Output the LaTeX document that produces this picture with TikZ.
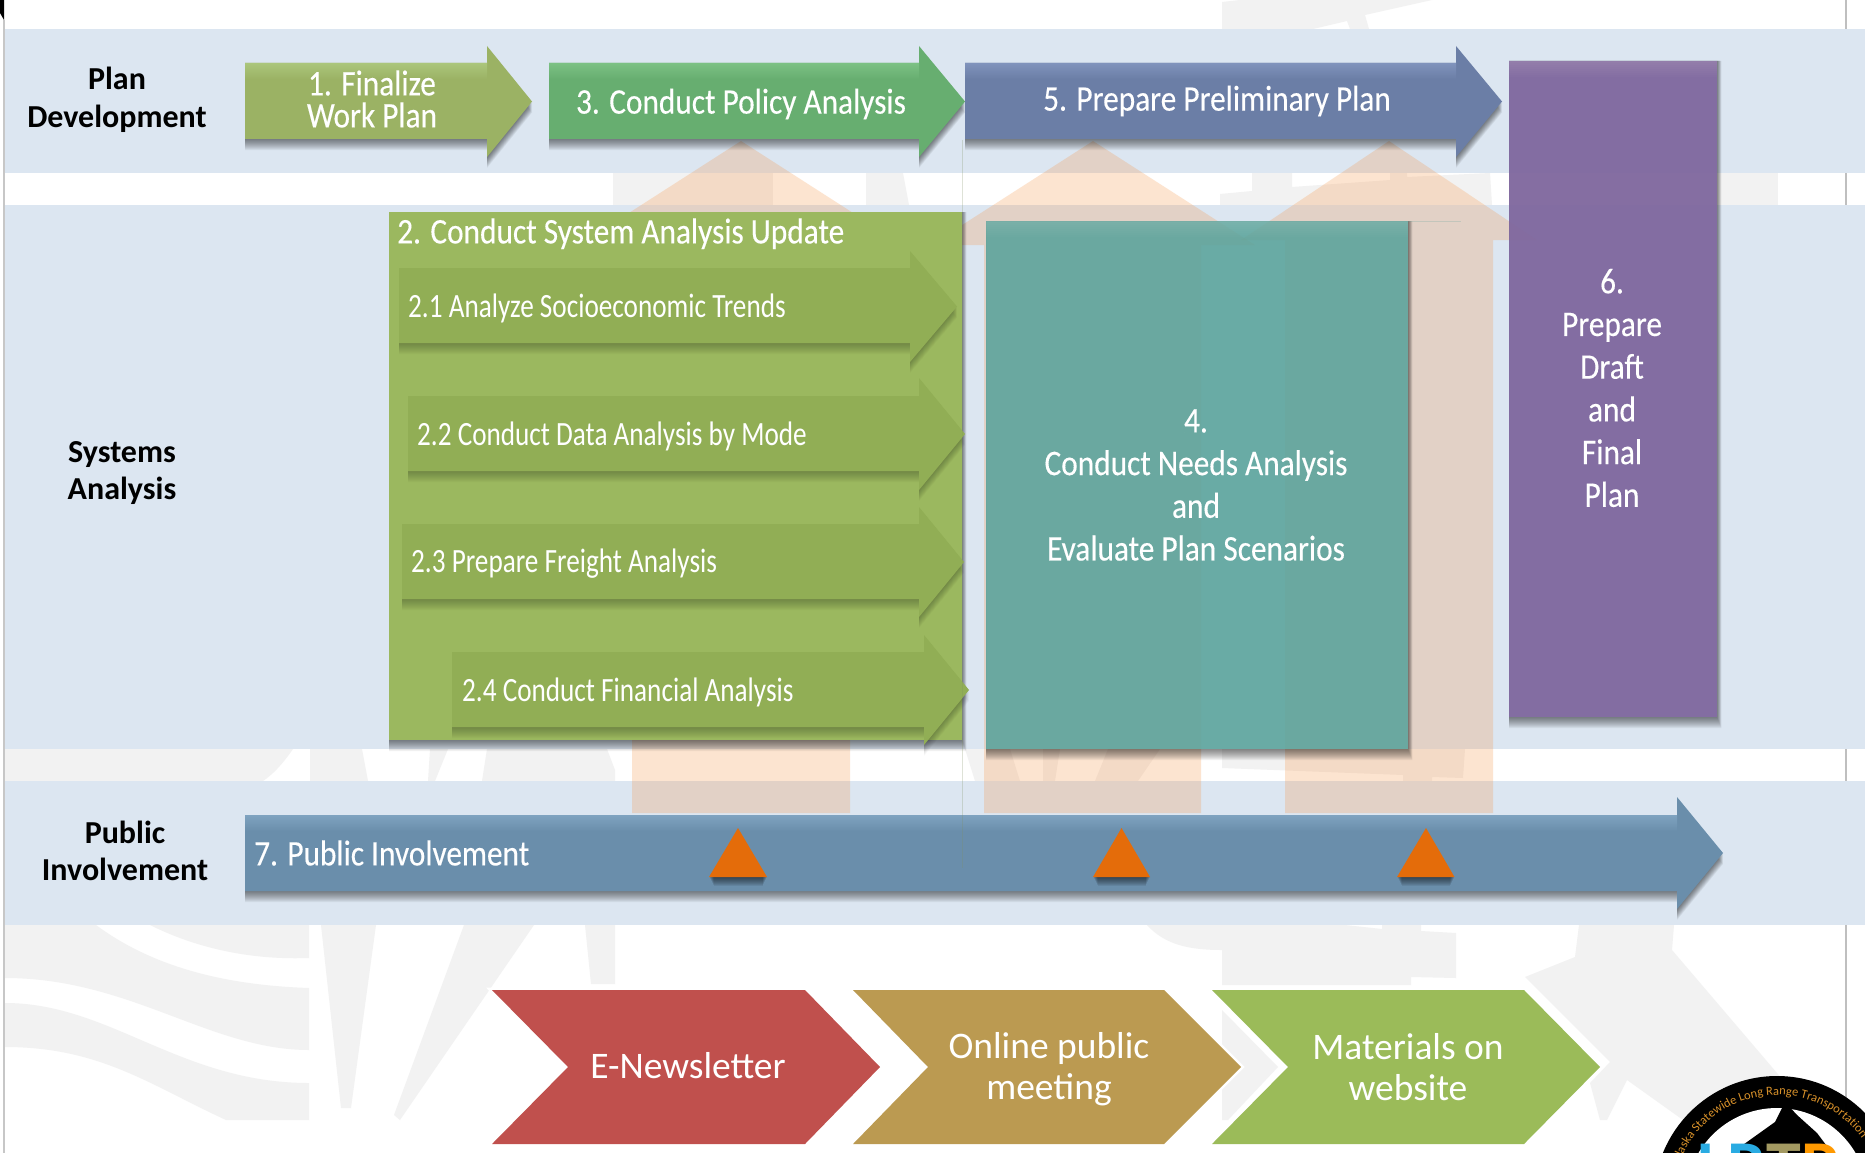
\documentclass[tikz,border=0pt]{standalone}
\usepackage{fontspec}
\usetikzlibrary{decorations.text}
\setmainfont{Carlito}
\newfontfamily\narrowf[FakeStretch=0.87,FakeBold=0.25]{Carlito}
\newfontfamily\narrowg[FakeStretch=0.8]{Carlito}
\definecolor{bandc}{HTML}{DCE6F1}
\definecolor{wmark}{HTML}{F2F2F2}
\definecolor{orangeup}{HTML}{F79646}
\definecolor{tri}{HTML}{E46C0A}
\definecolor{logoorange}{HTML}{D8912A}
\definecolor{logoblue}{HTML}{29ABE2}
\definecolor{aone}{HTML}{9BB264}
\definecolor{aonel}{HTML}{ABC67C}
\definecolor{athree}{HTML}{67AE70}
\definecolor{athreel}{HTML}{7CC184}
\definecolor{afive}{HTML}{6B7EA6}
\definecolor{afivel}{HTML}{8093BC}
\definecolor{aseven}{HTML}{6A8EAB}
\definecolor{asevenl}{HTML}{7FA3C0}
\definecolor{boxtwo}{HTML}{9BB85F}
\definecolor{subarrow}{HTML}{91AE55}
\definecolor{boxfour}{HTML}{5AA39B}
\definecolor{boxsix}{HTML}{7F679E}
\definecolor{hairteal}{HTML}{6AA39B}
\definecolor{hairgreen}{HTML}{7F8F60}
\definecolor{chevred}{HTML}{C0504D}
\definecolor{chevtan}{HTML}{BB9A51}
\definecolor{chevgreen}{HTML}{9BBB59}
\def\shopa{.05}
\newcommand{\arrowpath}[7]{(#1,#4)--(#2,#4)--(#2,#6)--(#3,{(#6+#7)/2})--(#2,#7)--(#2,#5)--(#1,#5)--cycle}
\newcommand{\softshadow}[1]{\foreach \dd in {1,...,11}{\fill[black,opacity=\shopa,shift={(0,\dd)}] #1;}}
\newcommand{\flowarrow}[9]{%
  \softshadow{\arrowpath{#1}{#2}{#3}{#4}{#5}{#6}{#7}}
  \fill[fill=#8] \arrowpath{#1}{#2}{#3}{#4}{#5}{#6}{#7};
  \begin{scope}
    \clip \arrowpath{#1}{#2}{#3}{#4}{#5}{#6}{#7};
    \shade[top color=#9,bottom color=#8] (#1,#4) rectangle (#2,#4+16);
  \end{scope}}
\newcommand{\boxshadow}[4]{\foreach \dd in {1,...,11}{\fill[black,opacity=\shopa,even odd rule] (#1,#2) rectangle ({#3+.4*\dd},#4+\dd) (#1,#2) rectangle (#3,#4);}}
\newcommand{\boxglow}[4]{\foreach \dd in {1,...,8}{\fill[white,opacity=.02] (#1,#2) rectangle (#3,#2+2*\dd);}}
\newcommand{\chev}[5]{\draw[draw=white,line width=5pt,line join=miter] (#1,990)--(#3,990)--(#4,1067)--(#3,1144)--(#1,1144)--(#2,1067)--cycle;\fill[fill=#5] (#1,990)--(#3,990)--(#4,1067)--(#3,1144)--(#1,1144)--(#2,1067)--cycle;}
\tikzset{
  head/.style={font=\bfseries\fontsize{32}{37.5}\selectfont,align=center,text=black,inner sep=0pt},
  big/.style={font=\narrowf\fontsize{36}{32}\selectfont,align=center,text=white,inner sep=0pt},
  bigtall/.style={font=\narrowf\fontsize{36}{42.7}\selectfont,align=center,text=white,inner sep=0pt},
  sub/.style={font=\narrowg\fontsize{34}{34}\selectfont,anchor=mid west,text=white,inner sep=0pt},
  chevtext/.style={font=\fontsize{37.5}{41.6}\selectfont,align=center,text=white,inner sep=0pt},
  upfill/.style={fill=orangeup,opacity=.25},
  wm/.style={fill=wmark}
}
\begin{document}
\begin{tikzpicture}[x=1pt,y=-1pt]
\useasboundingbox (0,0) rectangle (1865,1153);
\clip (0,0) rectangle (1865,1153);
\fill[white] (0,0) rectangle (1865,1153);
% watermark pieces
\fill[wm] (1222,29)--(1222,2)--(1240,0)--(1432,0)--(1365,15)--(1369,29)--(1350,29)--(1347,21)--(1313,29)--cycle;
\fill[wm] (613,173) rectangle (773,205);
\fill[wm] (866,173)--(903,173)--(909,205)--(866,205)--cycle;
\fill[wm] (1252,173)--(1292,173)--(1292,187)--(1390,180)--(1390,173)--(1407,173)--(1407,177)--(1490,173)--(1492,205)--(1220,205)--(1220,194)--(1252,191)--cycle;
\fill[wm] (1700,173)--(1778,173)--(1778,205)--(1700,205)--cycle;
\fill[wm] (5,749)--(293,749)..controls (282,765) and (272,775)..(263,781)--(5,781)--cycle;
\fill[wm] (310,749)--(362,749)--(368,781)--(310,781)--cycle;
\fill[wm] (430,749)--(448,749)--(435,781)--(428,781)--cycle;
\fill[wm] (487,749)--(607,749)--(615,770)--(615,781)--(482,781)--cycle;
\fill[wm] (965,749)--(1010,749)--(1020,781)--(975,781)--cycle;
\fill[wm] (1043,749)--(1060,749)--(1055,781)--(1043,781)--cycle;
\fill[wm] (1108,749)--(1160,749)--(1138,781)--(1095,781)--cycle;
\fill[wm] (1222,749)--(1465,749)--(1463,778)--(1432,777)--(1432,781)--(1403,781)--(1403,775)--(1222,768)--cycle;
\fill[wm] (150,925)--(309,925)--(309,958)..controls (255,960) and (200,950)..(150,925)--cycle;
\fill[wm] (5,925)--(96,925)..controls (150,965) and (220,985)..(309,988)--(309,1050)..controls (210,1050) and (130,978)..(5,978)--cycle;
\fill[wm] (5,1003)..controls (110,1003) and (180,1083)..(309,1083)--(309,1120)--(226,1120)..controls (150,1085) and (100,1047)..(5,1047)--cycle;
\fill[wm] (321,925)--(376,925)--(351,1108)--(341,1108)--cycle;
\fill[wm] (464,925)--(534,925)--(400,1120)--(394,1115)--cycle;
\fill[wm] (585,925)--(615,925)--(615,984)--(591,984)--cycle;
\fill[wm] (1147,925)--(1345,925)--(1382,929)--(1382,925)--(1421,925)--(1421,931)--(1456,933)--(1456,978)--(1411,977)--(1411,985)--(1222,985)--(1222,950)..controls (1190,950) and (1165,945)..(1147,925)--cycle;
\fill[wm] (1222,1010)--(1278,1067)--(1228,1120)--(1222,1120)--cycle;
\fill[wm] (1579,925)--(1674,925)--(1672,950)--(1800,1100)--(1800,1120)--(1683,1120)--(1627,1080)--(1607,1120)--(1600,1120)--(1590,1083)--(1610,1062)--(1525,977)--(1575,957)--cycle;
% page edges
\fill[black] (0,0)--(4,0)--(4,20)--(0,13)--cycle;
\draw[draw=black!22,line width=2pt] (4,20)--(4,1153);
\draw[draw=black!25,line width=2pt] (1846,0)--(1846,1153);
% bands
\fill[bandc] (5,29) rectangle (1865,173);
\fill[bandc] (5,205) rectangle (1865,749);
\fill[bandc] (5,781) rectangle (1865,925);
% translucent upward arrows
\fill[upfill] (741,141)--(903,245)--(850,245)--(850,813)--(632,813)--(632,245)--(579,245)--cycle;
\fill[upfill] (1093,141)--(1255,245)--(1201,245)--(1201,813)--(984,813)--(984,245)--(931,245)--cycle;
\fill[upfill] (1389,141)--(1537,240)--(1493,240)--(1493,813)--(1285,813)--(1285,240)--(1241,240)--cycle;
% plan development row
\flowarrow{245}{487}{532}{63}{139}{46}{157}{aone}{aonel}
\flowarrow{549}{919}{965}{63}{139}{46}{157}{athree}{athreel}
\flowarrow{965}{1456}{1502}{63}{139}{46}{157}{afive}{afivel}
% box 2
\boxshadow{389}{212}{962}{740}
\fill[fill=boxtwo] (389,212) rectangle (962,740);
\begingroup
\def\shopa{.025}
\flowarrow{399}{910}{957}{268}{343}{251}{362}{subarrow}{subarrow}
\flowarrow{408}{919}{965}{396}{471}{378}{490}{subarrow}{subarrow}
\flowarrow{402}{919}{964}{524}{599}{507}{617}{subarrow}{subarrow}
\flowarrow{452}{924}{969}{652}{727}{635}{745}{subarrow}{subarrow}
\endgroup
% box 4
\boxshadow{986}{221}{1408}{749}
\fill[fill=boxfour,opacity=.88] (986,221) rectangle (1408,749);
\boxglow{986}{221}{1408}{749}
\draw[draw=hairteal,opacity=.25,line width=1pt] (1408,221)--(1461,221);
% box 6
\boxshadow{1509}{61}{1717}{717}
\fill[fill=boxsix,opacity=.95] (1509,61) rectangle (1717,717);
\boxglow{1509}{61}{1717}{717}
% public involvement
\flowarrow{245}{1677}{1723}{815}{891}{797}{909}{aseven}{asevenl}
\draw[draw=hairgreen,opacity=.25,line width=.8pt] (962,140)--(962,868);
\foreach \a/\b/\c in {709/738/767,1093/1121.5/1150,1397/1426/1454.5}{
  \foreach \dd in {1,...,9}{\fill[black,opacity=.07] ({\a+.5*\dd},877) rectangle ({\c-.5*\dd},877+\dd);}
  \fill[tri] (\b,828)--(\c,877)--(\a,877)--cycle;
}
% chevrons
\chev{492}{568}{805}{880}{chevred}
\chev{853}{928}{1164}{1241}{chevtan}
\chev{1212}{1288}{1524}{1600}{chevgreen}
% logo
\fill[black] (1777,1199) circle[radius=123];
\fill[white] (1777,1199) circle[radius=91];
\fill[black] (1785,1102)--(1797,1115)--(1817,1133)--(1832,1153)--(1735,1153)--(1740,1147)--(1775,1122)--cycle;
\begin{scope}[shift={(1777,1199)}]
\path[decorate,decoration={text along path,text align=left,text={|\fontsize{12.5}{12.5}\selectfont\color{logoorange}|Alaska Statewide Long Range Transportation}}]
  (-97.7,-35.6) .. controls (-81.6,-79.8) and (-37.8,-107.7) .. (9.06,-103.6) .. controls (55.96,-99.5) and (94.2,-64.4) .. (102.4,-18.06);
\end{scope}
\node[font=\bfseries\fontsize{70}{70}\selectfont,anchor=base,inner sep=0pt] (lrtp) at (1768,1189) {\textcolor{logoblue}{LR}\textcolor{logoorange!70!logoblue}{T}\textcolor{orange!80!yellow}{P}};
% row labels
\node[head] (plandev) at (117,100) {Plan\\Development};
\node[head] (sysan) at (122,473) {Systems\\Analysis};
\node[head] (pubinv) at (125,851) {Public\\Involvement};
% arrow labels
\node[big] (t1) at (372,99) {1. Finalize\\Work Plan};
\node[big] (t3) at (741,104) {3. Conduct Policy Analysis};
\node[big] (t5) at (1217,101) {5. Prepare Preliminary Plan};
\node[big,anchor=mid west] (t2) at (397,241) {2. Conduct System Analysis Update};
\node[sub] (t21) at (408,315) {2.1 Analyze Socioeconomic Trends};
\node[sub] (t22) at (417,443) {2.2 Conduct Data Analysis by Mode};
\node[sub] (t23) at (411,570) {2.3 Prepare Freight Analysis};
\node[sub] (t24) at (462,699) {2.4 Conduct Financial Analysis};
\node[bigtall] (t4) at (1196,485) {4.\\Conduct Needs Analysis\\and\\Evaluate Plan Scenarios};
\node[bigtall] (t6) at (1612,388) {6.\\Prepare\\Draft\\and\\Final\\Plan};
\node[big,anchor=mid west] (t7) at (254,863) {7. Public Involvement};
\node[chevtext] (c1) at (688,1066) {E-Newsletter};
\node[chevtext] (c2) at (1049,1069) {Online public\\meeting};
\node[chevtext] (c3) at (1408,1067) {Materials on\\website};
\end{tikzpicture}
\end{document}
